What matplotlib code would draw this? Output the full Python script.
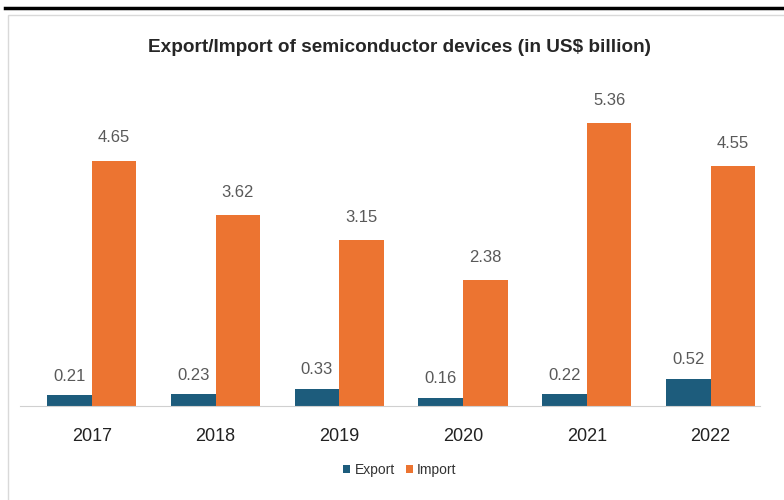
import matplotlib.pyplot as plt
import matplotlib.font_manager as fm
from matplotlib.lines import Line2D
from matplotlib.patches import Rectangle
import numpy as np

years = ["2017", "2018", "2019", "2020", "2021", "2022"]
export = [0.21, 0.23, 0.33, 0.16, 0.22, 0.52]
imports = [4.65, 3.62, 3.15, 2.38, 5.36, 4.55]

col_export = "#1d5c7c"
col_import = "#ec7431"

names = {f.name for f in fm.fontManager.ttflist}
narrow = "Liberation Sans Narrow" if "Liberation Sans Narrow" in names else "Liberation Sans"
plt.rcParams["font.family"] = [narrow, "DejaVu Sans"]

fig = plt.figure(figsize=(7.84, 5.0), dpi=100)
fig.patch.set_facecolor("white")

# marco de la imagen
fig.add_artist(Line2D([5 / 784, 1], [1 - 8 / 500, 1 - 8 / 500], color="black", lw=2.5))
fig.add_artist(Rectangle((8 / 784, -0.01), 1, 1 - 15 / 500 + 0.01, fill=False,
                         edgecolor="#d9d9d9", lw=1.0))

ax = fig.add_axes([20 / 784, 94 / 500, 740 / 784, 306 / 500])
x = np.arange(len(years))
w = 0.36

b1 = ax.bar(x - w / 2, export, w, color=col_export, label="Export")
b2 = ax.bar(x + w / 2, imports, w, color=col_import, label="Import")

for rect, v in zip(b1, export):
    ax.annotate(f"{v:.2f}", (rect.get_x() + rect.get_width() / 2, v), xytext=(0, 8),
                textcoords="offset points", ha="center", va="bottom", fontsize=12, color="#595959")
for rect, v in zip(b2, imports):
    ax.annotate(f"{v:.2f}", (rect.get_x() + rect.get_width() / 2, v), xytext=(0, 11),
                textcoords="offset points", ha="center", va="bottom", fontsize=12, color="#595959")

ax.set_xlim(-0.58, 5.4)
ax.set_ylim(0, 5.8)
ax.set_xticks(x)
ax.set_xticklabels(years, fontsize=13, color="#222222")
ax.tick_params(axis="x", length=0, pad=16)
ax.set_yticks([])
for s in ["top", "right", "left"]:
    ax.spines[s].set_visible(False)
ax.spines["bottom"].set_color("#d0d0d0")

fig.text(0.51, 1 - 47 / 500, "Export/Import of semiconductor devices (in US$ billion)",
         ha="center", va="center", fontsize=13.7, fontweight="bold", color="#262626")

fig.legend(handles=[b1, b2], labels=["Export", "Import"], loc="center",
           bbox_to_anchor=(400 / 784, 1 - 470 / 500), ncol=2, frameon=False, fontsize=10,
           handlelength=0.5, handleheight=0.5, handletextpad=0.3, columnspacing=0.8,
           labelcolor="#333333")

fig.savefig("out.png", dpi=100, facecolor="white")
